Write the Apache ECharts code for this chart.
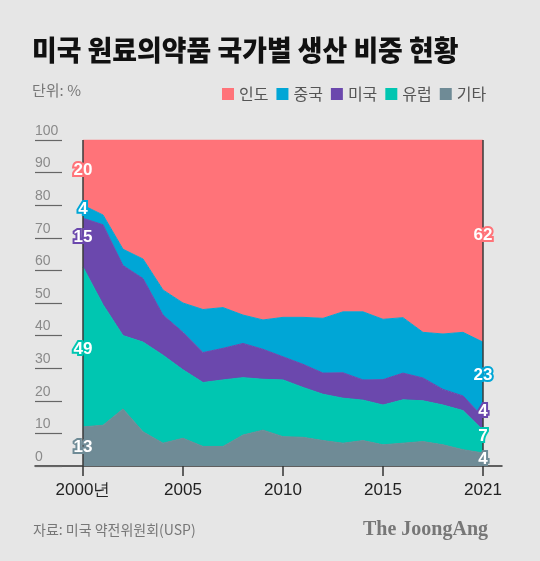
<!DOCTYPE html>
<html><head><meta charset="utf-8">
<script src="https://cdn.jsdelivr.net/npm/echarts@6/dist/echarts.min.js"></script>
<style>html,body{margin:0;padding:0;background:#e6e6e6}#c{width:540px;height:561px}</style>
</head><body><div id="c"></div>
<script>
// Data (percent share); the last step is labelled 2021
const years = [2000,2001,2002,2003,2004,2005,2006,2007,2008,2009,2010,2011,2012,2013,2014,2015,2016,2017,2018,2019,2021];
const etc    = [12,12.5,17.5,10.5,7,8.5,6,6,9.5,11,9,8.8,7.8,7,7.8,6.5,7,7.5,6.5,5,4];
const europe = [49,37,22.5,27.5,27,21,19.6,20.4,17.6,15.6,17.4,15.3,14.2,13.8,12.4,12.2,13.3,12.5,12.2,12,7];
const usa    = [15,24.5,21.5,19.5,12.3,11.5,9.2,9.7,10.5,9.2,7.1,7.1,6.5,7.8,6.2,7.8,8.2,7,4.8,4.5,4];
const china  = [4,3,5,6,7.7,9,13.2,12.5,8.7,9,12.1,14.4,16.8,18.7,20.9,18.5,17,14,17,19.5,23];
const india  = [20,23,33.5,36.5,46,50,52,51.4,53.7,55.2,54.4,54.4,54.7,52.7,52.7,55,54.5,59,59.5,59,62];
const tickYears = [2000,2005,2010,2015,2021];
const tickLabels = ['2000년','2005','2010','2015','2021'];
const startLabels = ['13','49','15','4','20'];
const endLabels = ['4','7','4','23','62'];

const seriesNames = ['기타','유럽','미국','중국','인도'];
const seriesData = [etc, europe, usa, china, india];
const colors = ['#6f8b96','#00c6b1','#6b48ad','#00a6d6','#ff7379'];
const startOffsets = [1,2,-5,-2,-2];
const endOffsets = [0,-5,-12,-4,-6];
const last = years.length - 1;
const tickPos = tickYears.map(y => years.indexOf(y));

function mid(k, idx){ let base = 0; for (let j = 0; j < k; j++) base += seriesData[j][idx]; return base + seriesData[k][idx] / 2; }

const chart = echarts.init(document.getElementById('c'));
const series = seriesData.map((arr, k) => {
  const lbl = (off, txt) => ({show:true, position:'inside', color:'#fff', fontSize:17, fontWeight:'bold',
    fontFamily:'Liberation Sans', textBorderColor:colors[k], textBorderWidth:4, offset:[0, off], formatter:txt});
  const s = {
    type:'line', name:seriesNames[k], stack:'total', xAxisIndex:0, yAxisIndex:0,
    data: arr.slice(),
    symbol:'none', showSymbol:false,
    lineStyle:{width:1, color:colors[k]}, itemStyle:{color:colors[k]},
    areaStyle:{color:colors[k], opacity:1},
    markPoint:{symbol:'circle', symbolSize:0, silent:true, data:[
      {coord:[0, mid(k, 0)], label:lbl(startOffsets[k], startLabels[k])},
      {coord:[last, mid(k, last)], label:lbl(endOffsets[k], endLabels[k])}
    ]}
  };
  if (k === seriesData.length - 1) {
    s.markLine = {symbol:'none', silent:true, label:{show:false},
      lineStyle:{color:'#3a3a3a', width:1.5, type:'solid'},
      data:[{xAxis:0},{xAxis:last}]};
  }
  return s;
});

chart.setOption({
  animation:false,
  backgroundColor:'#e6e6e6',
  textStyle:{fontFamily:'Noto Sans CJK KR'},
  graphic:[
    {type:'text', x:32, y:50, scaleX:0.96, style:{text:'미국 원료의약품 국가별 생산 비중 현황', x:0, y:0,
      font:'900 28px "Noto Sans CJK KR"', fill:'#111', textVerticalAlign:'middle'}},
    {type:'text', x:32, y:90, style:{text:'단위: %', font:'15px "Noto Sans CJK KR"', fill:'#777', textVerticalAlign:'middle'}},
    {type:'text', x:33, y:530, style:{text:'자료: 미국 약전위원회(USP)', font:'14px "Noto Sans CJK KR"', fill:'#777', textVerticalAlign:'middle'}},
    {type:'text', x:488, y:530, style:{text:'The JoongAng', font:'bold 20px "Liberation Serif"', fill:'#777', textAlign:'right', textVerticalAlign:'middle'}}
  ],
  legend:{data:['인도','중국','미국','유럽','기타'], icon:'rect', itemWidth:12, itemHeight:12, itemGap:8,
    left:217, top:81, textStyle:{fontSize:16, color:'#555', fontFamily:'Noto Sans CJK KR'}},
  grid:[
    {left:83, right:57, top:140, bottom:95},
    {left:35, right:38, top:140, bottom:95}
  ],
  xAxis:[
    {type:'category', gridIndex:0, data:years.map(String), boundaryGap:false,
      axisLine:{show:false}, axisTick:{show:false}, axisLabel:{show:false}, splitLine:{show:false}},
    {type:'value', gridIndex:1, min:-2.4, max:20.95,
      axisLine:{show:true, onZero:false, lineStyle:{color:'#333', width:1.5}},
      axisTick:{show:true, customValues:tickPos, length:10, lineStyle:{color:'#333', width:1.5}},
      axisLabel:{customValues:tickPos, margin:16, color:'#222', fontSize:17, fontFamily:'Liberation Sans',
        formatter:(v) => tickLabels[tickPos.indexOf(Math.round(v))]},
      splitLine:{show:false}}
  ],
  yAxis:[
    {type:'value', gridIndex:0, min:0, max:100, show:false, splitLine:{show:false}},
    {type:'value', gridIndex:1, min:0, max:100, interval:10,
      axisLine:{show:false, onZero:false},
      axisTick:{show:true, inside:true, length:27, lineStyle:{color:'#666', width:1.2}},
      axisLabel:{inside:true, margin:0, color:'#8a8a8a', fontSize:14, fontFamily:'Liberation Sans', verticalAlign:'bottom', padding:[0,0,2,0]},
      splitLine:{show:false}}
  ],
  series:series
});
</script></body></html>
